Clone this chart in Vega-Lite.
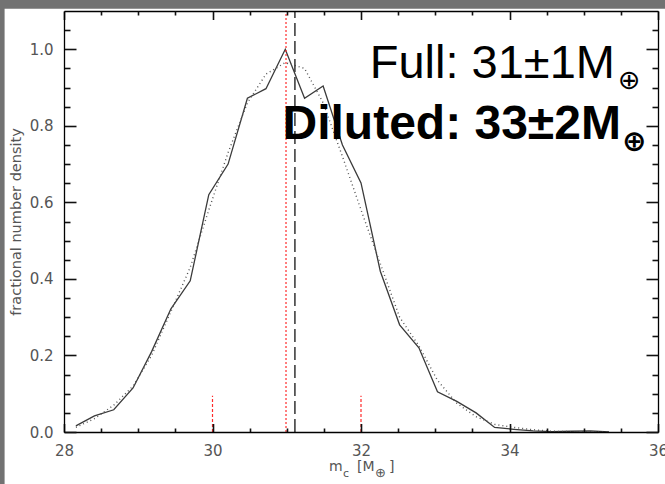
{
  "$schema": "https://vega.github.io/schema/vega-lite/v6.json",
  "autosize": {"type": "none"},
  "width": 594,
  "height": 421,
  "padding": {"left": 64, "top": 11, "right": 7, "bottom": 52},
  "background": "#727272",
  "config": {"view": {"stroke": null}},
  "datasets": {
    "solid": [
      {"x": 28.16, "y": 0.016}, {"x": 28.41, "y": 0.042}, {"x": 28.67, "y": 0.058}, {"x": 28.93, "y": 0.115},
      {"x": 29.18, "y": 0.21}, {"x": 29.44, "y": 0.322}, {"x": 29.70, "y": 0.395}, {"x": 29.95, "y": 0.62},
      {"x": 30.21, "y": 0.70}, {"x": 30.47, "y": 0.872}, {"x": 30.72, "y": 0.897}, {"x": 30.98, "y": 1.0},
      {"x": 31.24, "y": 0.872}, {"x": 31.49, "y": 0.904}, {"x": 31.75, "y": 0.75}, {"x": 32.0, "y": 0.651},
      {"x": 32.26, "y": 0.42}, {"x": 32.52, "y": 0.28}, {"x": 32.78, "y": 0.22}, {"x": 33.03, "y": 0.105},
      {"x": 33.29, "y": 0.08}, {"x": 33.55, "y": 0.05}, {"x": 33.80, "y": 0.012}, {"x": 34.06, "y": 0.007},
      {"x": 34.32, "y": 0.003}, {"x": 34.57, "y": 0.001}, {"x": 34.83, "y": 0.002}, {"x": 35.09, "y": 0.003},
      {"x": 35.34, "y": 0.0}
    ],
    "dotted": [
      {"x": 28.16, "y": 0.012}, {"x": 28.41, "y": 0.035}, {"x": 28.67, "y": 0.07}, {"x": 28.93, "y": 0.12},
      {"x": 29.18, "y": 0.2}, {"x": 29.44, "y": 0.315}, {"x": 29.70, "y": 0.43}, {"x": 29.95, "y": 0.58},
      {"x": 30.21, "y": 0.73}, {"x": 30.47, "y": 0.86}, {"x": 30.72, "y": 0.935}, {"x": 30.98, "y": 0.965},
      {"x": 31.24, "y": 0.95}, {"x": 31.49, "y": 0.86}, {"x": 31.75, "y": 0.72}, {"x": 32.01, "y": 0.575},
      {"x": 32.26, "y": 0.44}, {"x": 32.52, "y": 0.30}, {"x": 32.78, "y": 0.225}, {"x": 33.03, "y": 0.135},
      {"x": 33.29, "y": 0.075}, {"x": 33.55, "y": 0.04}, {"x": 33.80, "y": 0.02}, {"x": 34.06, "y": 0.012},
      {"x": 34.32, "y": 0.006}, {"x": 34.57, "y": 0.002}, {"x": 34.83, "y": 0.001}, {"x": 35.09, "y": 0.001},
      {"x": 35.34, "y": 0.0}
    ],
    "redfull": [{"x": 30.99, "y0": 0, "y1": 1.1}],
    "redshort": [{"x": 30.0, "y0": 0, "y1": 0.095}, {"x": 32.0, "y0": 0, "y1": 0.095}],
    "blackdash": [{"x": 31.11, "y0": 0, "y1": 1.1}],
    "one": [{}]
  },
  "resolve": {"axis": {"x": "independent", "y": "independent"}},
  "layer": [
    {
      "data": {"name": "one"},
      "mark": {"type": "rect", "fill": "#ffffff", "clip": false},
      "encoding": {
        "x": {"datum": 27.2, "type": "quantitative", "scale": {"domain": [28, 36], "nice": false, "zero": false},
          "axis": {"orient": "top", "values": [28, 36], "ticks": false, "labels": false, "domain": true, "domainColor": "#000000", "domainWidth": 1.3, "grid": false, "title": null, "zindex": 2}},
        "x2": {"datum": 36.3},
        "y": {"datum": -0.2, "type": "quantitative", "scale": {"domain": [0, 1.1], "nice": false},
          "axis": {"orient": "right", "values": [0, 1.1], "ticks": false, "labels": false, "domain": true, "domainColor": "#000000", "domainWidth": 1.3, "grid": false, "title": null, "zindex": 2}},
        "y2": {"datum": 1.106}
      }
    },
    {
      "data": {"name": "solid"},
      "mark": {"type": "line", "stroke": "#3a3a3a", "strokeWidth": 1.3},
      "encoding": {
        "x": {"field": "x", "type": "quantitative", "scale": {"domain": [28, 36], "nice": false, "zero": false},
          "axis": {"orient": "bottom", "values": [28, 30, 32, 34, 36], "offset": -8.5, "tickSize": 8.5, "tickColor": "#111111", "tickWidth": 1.6, "domain": false,
            "labelFont": "DejaVu Sans", "labelFontSize": 15, "labelColor": "#555555", "labelPadding": 11, "labelFlush": false,
            "labelOverlap": false, "labelBound": false, "grid": false, "title": null, "zindex": 2}},
        "y": {"field": "y", "type": "quantitative", "scale": {"domain": [0, 1.1], "nice": false},
          "axis": {"orient": "left", "values": [0, 0.2, 0.4, 0.6, 0.8, 1.0], "format": ".1f", "offset": -12, "tickSize": 12, "tickColor": "#111111", "tickWidth": 1.6, "domain": false,
            "labelFont": "DejaVu Sans", "labelFontSize": 15, "labelColor": "#555555", "labelPadding": 11, "labelFlush": false,
            "labelOverlap": false, "labelBound": false, "grid": false, "zindex": 2,
            "title": "fractional number density", "titleFont": "DejaVu Sans", "titleFontSize": 14.5, "titleFontWeight": "normal",
            "titleColor": "#555555", "titlePadding": 6}}
      }
    },
    {
      "data": {"name": "dotted"},
      "mark": {"type": "line", "stroke": "#555555", "strokeWidth": 1.4, "strokeDash": [1, 3]},
      "encoding": {
        "x": {"field": "x", "type": "quantitative", "scale": {"domain": [28, 36], "nice": false, "zero": false},
          "axis": {"orient": "bottom", "values": [28.5, 29, 29.5, 30.5, 31, 31.5, 32.5, 33, 33.5, 34.5, 35, 35.5], "offset": -4, "tickSize": 4, "tickColor": "#111111", "tickWidth": 1.6,
            "domain": false, "labels": false, "grid": false, "title": null, "zindex": 2}},
        "y": {"field": "y", "type": "quantitative", "scale": {"domain": [0, 1.1], "nice": false},
          "axis": {"orient": "left", "values": [0.05, 0.1, 0.15, 0.25, 0.3, 0.35, 0.45, 0.5, 0.55, 0.65, 0.7, 0.75, 0.85, 0.9, 0.95, 1.05], "offset": -6, "tickSize": 6, "tickColor": "#111111", "tickWidth": 1.6,
            "domain": false, "labels": false, "grid": false, "title": null, "zindex": 2}}
      }
    },
    {
      "data": {"name": "redfull"},
      "mark": {"type": "rule", "stroke": "#ff2a2a", "strokeWidth": 1.2, "strokeDash": [2, 2]},
      "encoding": {
        "x": {"field": "x", "type": "quantitative", "scale": {"domain": [28, 36], "nice": false, "zero": false},
          "axis": {"orient": "top", "values": [28, 30, 32, 34, 36], "offset": -8.5, "tickSize": 8.5, "tickColor": "#111111", "tickWidth": 1.6, "domain": false, "labels": false, "grid": false, "title": null, "zindex": 2}},
        "y": {"field": "y0", "type": "quantitative", "scale": {"domain": [0, 1.1], "nice": false},
          "axis": {"orient": "right", "values": [0, 0.2, 0.4, 0.6, 0.8, 1.0], "offset": -12, "tickSize": 12, "tickColor": "#111111", "tickWidth": 1.6, "domain": false, "labels": false, "grid": false, "title": null, "zindex": 2}},
        "y2": {"field": "y1"}
      }
    },
    {
      "data": {"name": "redshort"},
      "mark": {"type": "rule", "stroke": "#ff2a2a", "strokeWidth": 1.2, "strokeDash": [3, 2]},
      "encoding": {
        "x": {"field": "x", "type": "quantitative", "scale": {"domain": [28, 36], "nice": false, "zero": false},
          "axis": {"orient": "top", "values": [28.5, 29, 29.5, 30.5, 31, 31.5, 32.5, 33, 33.5, 34.5, 35, 35.5], "offset": -4, "tickSize": 4, "tickColor": "#111111", "tickWidth": 1.6,
            "domain": false, "labels": false, "grid": false, "title": null, "zindex": 2}},
        "y": {"field": "y0", "type": "quantitative", "scale": {"domain": [0, 1.1], "nice": false},
          "axis": {"orient": "right", "values": [0.05, 0.1, 0.15, 0.25, 0.3, 0.35, 0.45, 0.5, 0.55, 0.65, 0.7, 0.75, 0.85, 0.9, 0.95, 1.05], "offset": -6, "tickSize": 6, "tickColor": "#111111", "tickWidth": 1.6,
            "domain": false, "labels": false, "grid": false, "title": null, "zindex": 2}},
        "y2": {"field": "y1"}
      }
    },
    {
      "data": {"name": "blackdash"},
      "mark": {"type": "rule", "stroke": "#333333", "strokeWidth": 1.5, "strokeDash": [13, 5]},
      "encoding": {
        "x": {"field": "x", "type": "quantitative", "scale": {"domain": [28, 36], "nice": false, "zero": false},
          "axis": {"orient": "bottom", "values": [28, 36], "ticks": false, "labels": false, "domain": true, "domainColor": "#000000", "domainWidth": 1.3, "grid": false, "title": null, "zindex": 2}},
        "y": {"field": "y0", "type": "quantitative", "scale": {"domain": [0, 1.1], "nice": false},
          "axis": {"orient": "left", "values": [0, 1.1], "ticks": false, "labels": false, "domain": true, "domainColor": "#000000", "domainWidth": 1.3, "grid": false, "title": null, "zindex": 2}},
        "y2": {"field": "y1"}
      }
    },
    {
      "data": {"name": "one"},
      "mark": {"type": "text", "text": "Full: 31±1M", "font": "Liberation Sans", "fontSize": 47, "align": "right", "baseline": "alphabetic", "color": "#000000"},
      "encoding": {
        "x": {"datum": 35.42, "type": "quantitative", "scale": {"domain": [28, 36], "nice": false, "zero": false}, "axis": null},
        "y": {"datum": 0.925, "type": "quantitative", "scale": {"domain": [0, 1.1], "nice": false}, "axis": null}
      }
    },
    {
      "data": {"name": "one"},
      "mark": {"type": "text", "text": "⊕", "font": "DejaVu Sans", "fontSize": 27, "align": "left", "baseline": "alphabetic", "dx": 3, "dy": 11, "color": "#000000"},
      "encoding": {
        "x": {"datum": 35.42, "type": "quantitative", "scale": {"domain": [28, 36], "nice": false, "zero": false}, "axis": null},
        "y": {"datum": 0.925, "type": "quantitative", "scale": {"domain": [0, 1.1], "nice": false}, "axis": null}
      }
    },
    {
      "data": {"name": "one"},
      "mark": {"type": "text", "text": "Diluted: 33±2M", "font": "Liberation Sans", "fontSize": 48, "fontWeight": "bold", "align": "right", "baseline": "alphabetic", "color": "#000000"},
      "encoding": {
        "x": {"datum": 35.5, "type": "quantitative", "scale": {"domain": [28, 36], "nice": false, "zero": false}, "axis": null},
        "y": {"datum": 0.7656, "type": "quantitative", "scale": {"domain": [0, 1.1], "nice": false}, "axis": null}
      }
    },
    {
      "data": {"name": "one"},
      "mark": {"type": "text", "text": "⊕", "font": "DejaVu Sans", "fontSize": 29, "fontWeight": "bold", "align": "left", "baseline": "alphabetic", "dx": 1, "dy": 12, "color": "#000000"},
      "encoding": {
        "x": {"datum": 35.5, "type": "quantitative", "scale": {"domain": [28, 36], "nice": false, "zero": false}, "axis": null},
        "y": {"datum": 0.7656, "type": "quantitative", "scale": {"domain": [0, 1.1], "nice": false}, "axis": null}
      }
    },
    {
      "data": {"name": "one"},
      "mark": {"type": "text", "text": "m", "font": "DejaVu Sans", "fontSize": 14, "align": "left", "baseline": "alphabetic", "dx": -32, "dy": 39, "color": "#555555"},
      "encoding": {
        "x": {"datum": 32, "type": "quantitative", "scale": {"domain": [28, 36], "nice": false, "zero": false}, "axis": null},
        "y": {"datum": 0, "type": "quantitative", "scale": {"domain": [0, 1.1], "nice": false}, "axis": null}
      }
    },
    {
      "data": {"name": "one"},
      "mark": {"type": "text", "text": "c", "font": "DejaVu Sans", "fontSize": 11, "align": "left", "baseline": "alphabetic", "dx": -18, "dy": 45, "color": "#555555"},
      "encoding": {
        "x": {"datum": 32, "type": "quantitative", "scale": {"domain": [28, 36], "nice": false, "zero": false}, "axis": null},
        "y": {"datum": 0, "type": "quantitative", "scale": {"domain": [0, 1.1], "nice": false}, "axis": null}
      }
    },
    {
      "data": {"name": "one"},
      "mark": {"type": "text", "text": "[M", "font": "DejaVu Sans", "fontSize": 14, "align": "left", "baseline": "alphabetic", "dx": -4, "dy": 39, "color": "#555555"},
      "encoding": {
        "x": {"datum": 32, "type": "quantitative", "scale": {"domain": [28, 36], "nice": false, "zero": false}, "axis": null},
        "y": {"datum": 0, "type": "quantitative", "scale": {"domain": [0, 1.1], "nice": false}, "axis": null}
      }
    },
    {
      "data": {"name": "one"},
      "mark": {"type": "text", "text": "⊕", "font": "DejaVu Sans", "fontSize": 13, "align": "left", "baseline": "alphabetic", "dx": 14, "dy": 45, "color": "#555555"},
      "encoding": {
        "x": {"datum": 32, "type": "quantitative", "scale": {"domain": [28, 36], "nice": false, "zero": false}, "axis": null},
        "y": {"datum": 0, "type": "quantitative", "scale": {"domain": [0, 1.1], "nice": false}, "axis": null}
      }
    },
    {
      "data": {"name": "one"},
      "mark": {"type": "text", "text": "]", "font": "DejaVu Sans", "fontSize": 14, "align": "left", "baseline": "alphabetic", "dx": 28, "dy": 39, "color": "#555555"},
      "encoding": {
        "x": {"datum": 32, "type": "quantitative", "scale": {"domain": [28, 36], "nice": false, "zero": false}, "axis": null},
        "y": {"datum": 0, "type": "quantitative", "scale": {"domain": [0, 1.1], "nice": false}, "axis": null}
      }
    }
  ]
}
